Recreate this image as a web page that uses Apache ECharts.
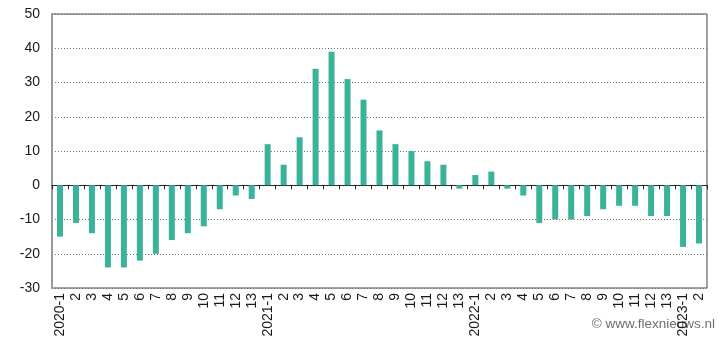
<!DOCTYPE html>
<html>
<head>
<meta charset="utf-8">
<script src="https://cdn.jsdelivr.net/npm/echarts@6/dist/echarts.min.js"></script>
<style>
  html, body { margin: 0; padding: 0; background: #fff; }
  #chart { width: 725px; height: 349px; }
</style>
</head>
<body>
<div id="chart"></div>
<script>
// Period labels: 13 periods per year, 2020-1 through 2023-2
const periods = [
  '2020-1','2','3','4','5','6','7','8','9','10','11','12','13',
  '2021-1','2','3','4','5','6','7','8','9','10','11','12','13',
  '2022-1','2','3','4','5','6','7','8','9','10','11','12','13',
  '2023-1','2'
];

// Year-on-year change per period (%)
const values2020 = [-15, -11, -14, -24, -24, -22, -20, -16, -14, -12, -7, -3, -4];
const values2021 = [12, 6, 14, 34, 39, 31, 25, 16, 12, 10, 7, 6, -1];
const values2022 = [3, 4, -1, -3, -11, -10, -10, -9, -7, -6, -6, -9, -9];
const values2023 = [-18, -17];

const yTicks = { min: -30, max: 50, interval: 10 };

const values = [].concat(values2020, values2021, values2022, values2023);

const chart = echarts.init(document.getElementById('chart'), null, { renderer: 'canvas' });

chart.setOption({
  animation: false,
  backgroundColor: '#ffffff',
  textStyle: { fontFamily: 'Liberation Sans, Arial, sans-serif' },
  grid: { left: 52, right: 18, top: 14, bottom: 61, show: true, borderColor: '#444', borderWidth: 1 },
  graphic: [{
    type: 'text',
    right: 10,
    top: 317,
    z: -10,
    style: {
      text: '\u00a9 www.flexnieuws.nl',
      fill: '#6f6f6f',
      font: '13.5px "Liberation Sans", Arial, sans-serif'
    }
  }],
  xAxis: [
    {
      // zero line with a tick between every period
      type: 'category',
      data: periods,
      axisLine: { onZero: true, lineStyle: { color: '#222', width: 1 } },
      axisTick: { show: true, interval: 0, inside: false, length: 4, lineStyle: { color: '#222' } },
      axisLabel: { show: false, interval: 0 },
      splitLine: { show: false }
    },
    {
      // period labels along the bottom
      type: 'category',
      data: periods,
      position: 'bottom',
      axisLine: { show: false, onZero: false },
      axisTick: { show: false },
      axisLabel: {
        show: true,
        interval: 0,
        rotate: 90,
        margin: 5,
        fontSize: 14,
        color: '#1a1a1a',
        fontFamily: 'Liberation Sans, Arial, sans-serif'
      },
      splitLine: { show: false }
    }
  ],
  yAxis: {
    type: 'value',
    min: yTicks.min,
    max: yTicks.max,
    interval: yTicks.interval,
    axisLine: { show: true, onZero: false, lineStyle: { color: '#999', width: 2 } },
    axisTick: { show: false },
    axisLabel: {
      fontSize: 14,
      color: '#1a1a1a',
      margin: 12,
      fontFamily: 'Liberation Sans, Arial, sans-serif'
    },
    splitLine: { show: true, lineStyle: { color: '#777', type: [1, 2], width: 1 } }
  },
  series: [{
    type: 'bar',
    xAxisIndex: 0,
    data: values,
    barWidth: 6,
    itemStyle: { color: '#3bb39b' }
  }]
});
</script>
</body>
</html>
